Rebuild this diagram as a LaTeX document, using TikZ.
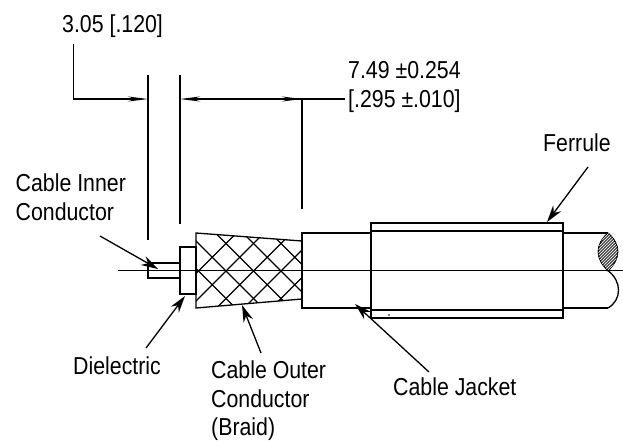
\documentclass[tikz,border=0pt]{standalone}
\usepackage{fontspec}
\setmainfont[FakeStretch=0.87]{Liberation Sans}
\usetikzlibrary{patterns,arrows.meta}
\tikzset{
  part/.style={line width=1.3pt, fill=white},
  thin line/.style={line width=1.3pt},
  leader/.style={line width=1.3pt, -{Stealth[length=17pt,width=10pt]}},
  dimen/.style={line width=1.3pt, -{Stealth[length=20pt,width=5pt]}},
  lbl/.style={anchor=west, align=left, inner sep=0pt, font=\fontsize{24.5}{28.5}\selectfont}
}
\begin{document}
\begin{tikzpicture}[x=1pt,y=-1pt]
\useasboundingbox (0,0) rectangle (623,440);
% cable
\draw[part] (148,263) rectangle (180,278);
\draw[part] (180,247) rectangle (196,294);
\draw[part] (302,233) rectangle (371,308);
\draw[thin line] (563,233) -- (608,233);
\draw[thin line] (563,308) -- (608,308);
\draw[thin line] (608,270.7) .. controls (622,281) and (622,300) .. (608,308);
\filldraw[thin line, fill=black!70] (608,233) .. controls (595,245) and (595,258) .. (608,270.7) .. controls (621,258) and (621,245) .. (608,233);
\fill[pattern=north east lines, pattern color=white] (608,233) .. controls (595,245) and (595,258) .. (608,270.7) .. controls (621,258) and (621,245) .. (608,233);
% braid
\begin{scope}
\clip (196,233) -- (302,241) -- (302,299) -- (196,308) -- cycle;
\foreach \x in {0,...,9}
    {\draw[line width=1.2pt] (88.5+27.5*\x,161) -- (308.5+27.5*\x,381);
    \draw[line width=1.2pt] (88.5+27.5*\x,381) -- (308.5+27.5*\x,161);}
\end{scope}
\draw[thin line] (196,233) -- (302,241) -- (302,299) -- (196,308) -- cycle;
% ferrule
\draw[part] (371,223) rectangle (563,318);
\draw[thin line] (371,231) -- (563,231);
\draw[thin line] (371,310) -- (563,310);
\fill (389,315) circle (0.8);
\draw[thin line] (118,270.7) -- (623,270.7);
% dimensions
\draw[thin line] (148,75) -- (148,240);
\draw[thin line] (180,75) -- (180,224);
\draw[thin line] (302,100) -- (302,209);
\coordinate (dimleft) at (73.5,44);
\coordinate (dimcorner) at (73.5,99);
\coordinate (dimA) at (148,99);
\coordinate (dimB) at (180,99);
\coordinate (dimC) at (302,99);
\coordinate (dimend) at (345,99);
\coordinate (dimmid) at (240,99);
\draw[dimen] (dimleft) -- (dimcorner) -- (dimA);
\draw[dimen] (dimend) -- (dimB);
\draw[dimen] (dimmid) -- (dimC);
% labels
\node[lbl] (gap) at (62,26.5) {3.05 [.120]};
\node[lbl] (len) at (348,87) {7.49 ±0.254\\{[.295 ±.010]}};
\node[lbl] (ferrule) at (543,142.5) {Ferrule};
\node[lbl] (inner) at (15.5,197) {Cable Inner\\Conductor};
\node[lbl] (dielectric) at (73,365.5) {Dielectric};
\node[lbl] (braid) at (211,401) {Cable Outer\\Conductor\\(Braid)};
\node[lbl] (jacket) at (393,387) {Cable Jacket};
% leaders
\coordinate (innerstart) at (100,236);
\coordinate (innertip) at (158,269);
\coordinate (dielstart) at (146,348);
\coordinate (dieltip) at (185,296);
\coordinate (braidstart) at (261,353);
\coordinate (braidtip) at (242,305);
\coordinate (jacketstart) at (429,372);
\coordinate (jackettip) at (355,304);
\coordinate (ferrulestart) at (588,167);
\coordinate (ferruletip) at (547,222);
\draw[leader] (innerstart) -- (innertip);
\draw[leader] (dielstart) -- (dieltip);
\draw[leader] (braidstart) -- (braidtip);
\draw[leader] (jacketstart) -- (jackettip);
\draw[leader] (ferrulestart) -- (ferruletip);
\end{tikzpicture}
\end{document}
